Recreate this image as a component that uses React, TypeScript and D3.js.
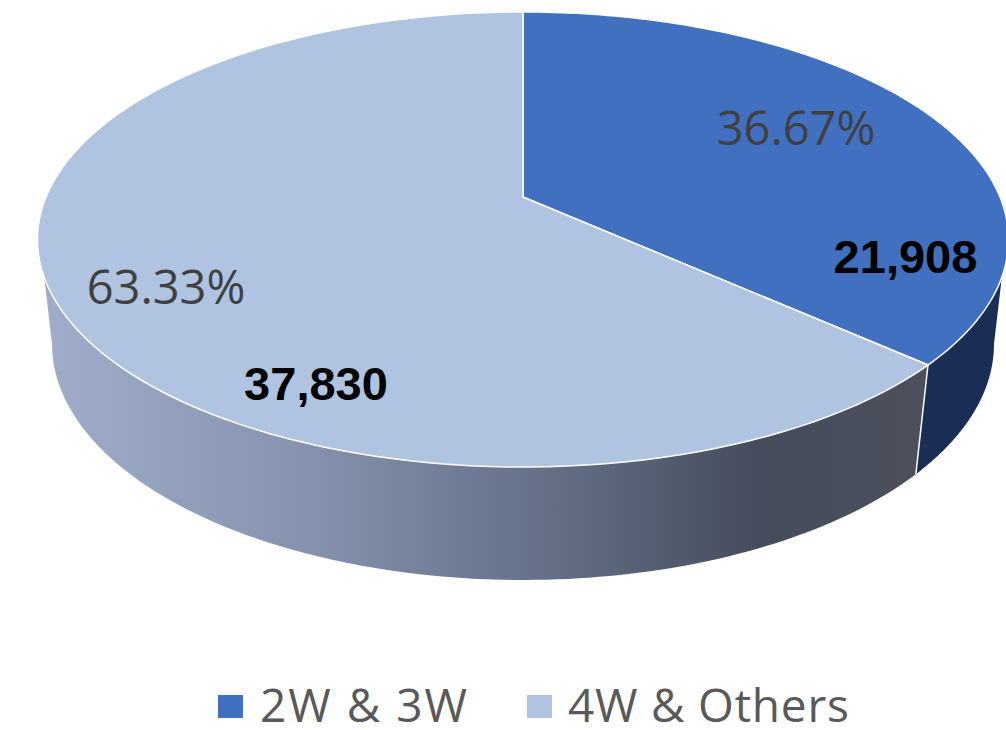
import * as d3 from 'd3'

const categories = ['2W & 3W', '4W & Others']
const values = [21908, 37830]
const percentLabels = ['36.67%', '63.33%']

const colors = ['#4170c0', '#b0c4e2']
const sideDark = '#1a2d55'

// perspective projection of the unit disc, fitted to the picture
const cx = 523
const cy = 197
const radius = 477
const yScale = 219.6
const tilt = -0.1868

// lower rim is its own ellipse, a bit narrower and rounder than the top face
const topMid = 239.5
const bottomMid = 344
const shrink = 0.97
const stretch = 1.037

type Pt = [number, number]

const top = (a: number): Pt => {
  const u = Math.sin(a)
  const v = -Math.cos(a)
  const w = 1 + tilt * v
  return [cx + (radius * u) / w, cy + (yScale * v) / w]
}

const bottom = (a: number): Pt => {
  const [x, y] = top(a)
  return [cx + (x - cx) * shrink, bottomMid + (y - topMid) * stretch]
}

const samples = (a0: number, a1: number) => d3.range(0, 121).map(i => a0 + ((a1 - a0) * i) / 120)

const line = d3.line<Pt>().x(d => d[0]).y(d => d[1])

const pieSlices = d3.pie<number>().sort(null)(values)

const valueFormat = d3.format(',')

const percentPos: Pt[] = [[796, 145], [166, 304]]
const valuePos: Pt[] = [[905.5, 273], [316, 400]]
const legendBox = [218, 527]
const legendText = [260, 568]
const legendWidth = [207, 281]

const deg = Math.PI / 180

export default function App() {
  const seam = pieSlices[0].endAngle

  // rim walls: top arc out to where the silhouette leaves it, then the lower arc back
  const rimRight =
    line([
      ...samples(110 * deg, seam).map(top),
      ...samples(seam, 100.8 * deg).map(bottom),
    ]) + 'Z'
  const rimLeft =
    line([
      ...samples(seam, 249.9 * deg).map(top),
      ...samples(259.2 * deg, seam).map(bottom),
    ]) + 'Z'

  return (
    <svg
      width={1006}
      height={730}
      viewBox="0 0 1006 730"
      style={{ position: 'absolute', left: 0, top: 0, background: '#fff' }}
    >
      <defs>
        <linearGradient id="rim" gradientUnits="userSpaceOnUse" x1={40} x2={920} y1={0} y2={0}>
          <stop offset="0" stopColor="#a0aecb" />
          <stop offset="0.3" stopColor="#8593ae" />
          <stop offset="0.6" stopColor="#626d84" />
          <stop offset="0.82" stopColor="#444c5c" />
          <stop offset="1" stopColor="#4c505c" />
        </linearGradient>
      </defs>

      <path d={rimRight} fill={sideDark} />
      <path d={rimLeft} fill="url(#rim)" />
      <line
        x1={top(seam)[0]}
        y1={top(seam)[1]}
        x2={bottom(seam)[0]}
        y2={bottom(seam)[1]}
        stroke="#fff"
        strokeWidth={1.5}
      />

      {pieSlices.map((s, i) => (
        <path
          key={categories[i]}
          d={line([[cx, cy], ...samples(s.startAngle, s.endAngle).map(top)]) + 'Z'}
          fill={colors[i]}
          stroke="#fff"
          strokeWidth={1.5}
          strokeLinejoin="round"
        />
      ))}

      {percentLabels.map((t, i) => (
        <text
          key={t}
          x={percentPos[i][0]}
          y={percentPos[i][1]}
          textAnchor="middle"
          fontFamily="'Open Sans'"
          fontSize={47}
          fill="#404040"
        >
          {t}
        </text>
      ))}

      {values.map((v, i) => (
        <text
          key={v}
          x={valuePos[i][0]}
          y={valuePos[i][1]}
          textAnchor="middle"
          fontFamily="'Liberation Sans'"
          fontWeight="bold"
          fontSize={47}
          fill="#000"
        >
          {valueFormat(v)}
        </text>
      ))}

      {categories.map((c, i) => (
        <g key={c}>
          <rect x={legendBox[i]} y={695} width={25} height={23} fill={colors[i]} />
          <text
            x={legendText[i]}
            y={722}
            fontFamily="'Open Sans'"
            fontSize={46}
            fill="#595959"
            textLength={legendWidth[i]}
            lengthAdjust="spacing"
          >
            {c}
          </text>
        </g>
      ))}
    </svg>
  )
}
